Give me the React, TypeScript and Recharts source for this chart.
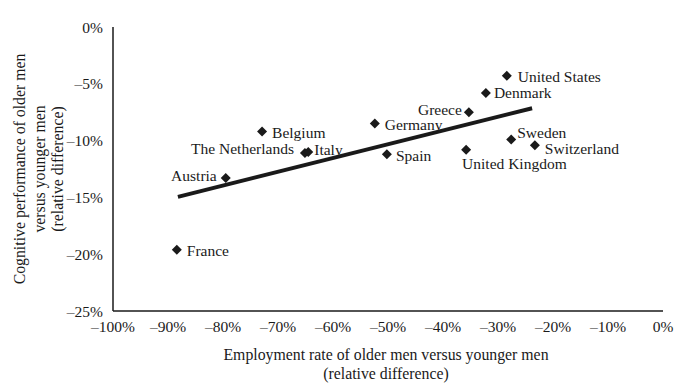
import React from "react";
import { ComposedChart, Scatter, XAxis, YAxis, LabelList } from "recharts";

const countries = [
  "United States",
  "Denmark",
  "Greece",
  "Germany",
  "Belgium",
  "Sweden",
  "Switzerland",
  "United Kingdom",
  "The Netherlands",
  "Italy",
  "Spain",
  "Austria",
  "France",
];
const employmentGap = [-28.4, -32.2, -35.3, -52.4, -72.9, -27.6, -23.3, -35.8, -65.1, -64.5, -50.2, -79.5, -88.4];
const cognitiveGap = [-4.3, -5.8, -7.5, -8.5, -9.2, -9.9, -10.4, -10.8, -11.1, -11.0, -11.2, -13.3, -19.6];

const trendX = [-88.2, -23.8];
const trendY = [-14.95, -7.15];

const xTicks = [-100, -90, -80, -70, -60, -50, -40, -30, -20, -10, 0];
const yTicks = [0, -5, -10, -15, -20, -25];

const points = countries.map((name, i) => ({ name, x: employmentGap[i], y: cognitiveGap[i] }));
const trend = trendX.map((x, i) => ({ x, y: trendY[i] }));

const FONT = "Liberation Serif, DejaVu Serif, serif";
const INK = "#1a1a1a";

const labelPlacement: Record<string, { dx: number; dy: number; anchor: "start" | "end" }> = {
  "United States": { dx: 11, dy: 1, anchor: "start" },
  Denmark: { dx: 8, dy: 0, anchor: "start" },
  Greece: { dx: -7, dy: -3, anchor: "end" },
  Germany: { dx: 10, dy: 1, anchor: "start" },
  Belgium: { dx: 10, dy: 1, anchor: "start" },
  Sweden: { dx: 6, dy: -7, anchor: "start" },
  Switzerland: { dx: 10, dy: 3, anchor: "start" },
  "United Kingdom": { dx: -4, dy: 14, anchor: "start" },
  "The Netherlands": { dx: -11, dy: -5, anchor: "end" },
  Italy: { dx: 6, dy: -2, anchor: "start" },
  Spain: { dx: 9, dy: 1, anchor: "start" },
  Austria: { dx: -9, dy: -3, anchor: "end" },
  France: { dx: 10, dy: 1, anchor: "start" },
};

const fmt = (v: number) => (v < 0 ? `\u2013${Math.abs(v)}%` : `${v}%`);

const Diamond = (props: any) => {
  const { cx, cy } = props;
  if (cx == null || cy == null) return null;
  const r = 5;
  return (
    <polygon
      points={`${cx},${cy - r} ${cx + r},${cy} ${cx},${cy + r} ${cx - r},${cy}`}
      fill={INK}
    />
  );
};

const NoShape = () => null;

const textStyle = { fontFamily: FONT, fontSize: 15.5 };
const titleStyle = { fontFamily: FONT, fontSize: 15.8 };

const CountryLabel = (props: any) => {
  const { x, y, width, height, value } = props;
  const p = labelPlacement[value] || { dx: 10, dy: 0, anchor: "start" };
  const cx = x + (width || 0) / 2;
  const cy = y + (height || 0) / 2;
  return (
    <text
      x={cx + p.dx}
      y={cy + p.dy}
      textAnchor={p.anchor}
      dominantBaseline="central"
      style={textStyle}
      fill={INK}
    >
      {value}
    </text>
  );
};

const YLabel = (props: any) => {
  const vb = props.viewBox || {};
  const cy = vb.y + vb.height / 2;
  const lines = ["Cognitive performance of older men", "versus younger men", "(relative difference)"];
  const xs = [19, 39, 57];
  return (
    <g>
      {lines.map((l, i) => (
        <text
          key={i}
          x={xs[i]}
          y={cy}
          transform={`rotate(-90, ${xs[i]}, ${cy})`}
          textAnchor="middle"
          dominantBaseline="central"
          style={titleStyle}
          fill={INK}
        >
          {l}
        </text>
      ))}
    </g>
  );
};

const XLabel = (props: any) => {
  const vb = props.viewBox || {};
  const cx = vb.x + vb.width / 2 - 2;
  const lines = ["Employment rate of older men versus younger men", "(relative difference)"];
  return (
    <g>
      {lines.map((l, i) => (
        <text
          key={i}
          x={cx}
          y={354 + i * 19}
          textAnchor="middle"
          dominantBaseline="central"
          style={titleStyle}
          fill={INK}
        >
          {l}
        </text>
      ))}
    </g>
  );
};

export default function App() {
  return (
    <div style={{ position: "absolute", left: 0, top: 0, background: "#fff", fontFamily: FONT }}>
      <ComposedChart
        width={682}
        height={385}
        margin={{ top: 27, right: 19, bottom: 0, left: 0 }}
        style={{ fontFamily: FONT }}
      >
        <XAxis
          type="number"
          dataKey="x"
          domain={[-100, 0]}
          ticks={xTicks}
          tickFormatter={fmt}
          tickLine={false}
          axisLine={{ stroke: INK, strokeWidth: 1.5 }}
          tick={{ style: textStyle, fill: INK }}
          tickMargin={4}
          height={74}
          interval={0}
          label={<XLabel />}
          allowDataOverflow
        />
        <YAxis
          type="number"
          dataKey="y"
          domain={[-25, 0]}
          ticks={yTicks}
          tickFormatter={fmt}
          tickLine={false}
          axisLine={{ stroke: INK, strokeWidth: 1.5 }}
          tick={{ style: textStyle, fill: INK }}
          tickMargin={4}
          width={113}
          interval={0}
          label={<YLabel />}
          allowDataOverflow
        />
        <Scatter
          data={trend}
          line={{ stroke: INK, strokeWidth: 4 }}
          shape={NoShape}
          isAnimationActive={false}
        />
        <Scatter data={points} shape={Diamond} isAnimationActive={false}>
          <LabelList dataKey="name" content={<CountryLabel />} />
        </Scatter>
      </ComposedChart>
    </div>
  );
}
